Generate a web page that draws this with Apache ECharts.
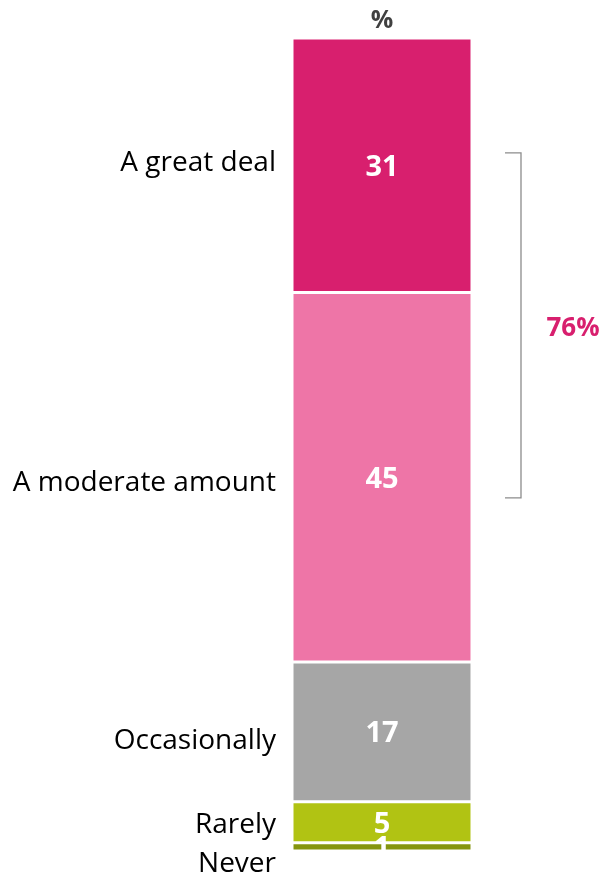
<!DOCTYPE html>
<html>
<head>
<meta charset="utf-8">
<script src="https://cdn.jsdelivr.net/npm/echarts@6/dist/echarts.min.js"></script>
<style>
  html, body { margin: 0; padding: 0; background: #fff; }
  #chart { width: 602px; height: 876px; }
</style>
</head>
<body>
<div id="chart"></div>
<script>
const categories = ['A great deal', 'A moderate amount', 'Occasionally', 'Rarely', 'Never'];
const values = [31, 45, 17, 5, 1];
const barName = ['%'];
const netValue = '76%';

const colors = ['#D81F6E', '#EE75A7', '#A6A6A6', '#B1C313', '#85950F'];
// small vertical nudges of the left-hand labels, as placed in the original
const nameOffsets = [-2, 6, 9, 3, 17];
const font = '"Open Sans", sans-serif';

const fillChart = () => {
  const dom = document.getElementById('chart');
  const myChart = echarts.init(dom);
  const total = values.reduce((a, b) => a + b, 0);

  const valueSeries = values.map((v, i) => ({
    name: categories[i],
    type: 'bar',
    stack: 'values',
    barWidth: '100%',
    data: [v],
    itemStyle: { color: colors[i], borderColor: '#fff', borderWidth: 1.5 },
    label: {
      show: true,
      position: 'inside',
      color: '#fff',
      fontFamily: font,
      fontWeight: 'bold',
      fontSize: 29,
      offset: [0, 2]
    },
    silent: true
  }));

  const nameSeries = values.map((v, i) => ({
    name: categories[i] + ' label',
    type: 'bar',
    stack: 'names',
    barWidth: '100%',
    barGap: '-100%',
    data: [v],
    itemStyle: { color: 'transparent' },
    label: {
      show: true,
      position: 'left',
      distance: 16,
      formatter: categories[i],
      color: '#000',
      fontFamily: font,
      fontSize: 28,
      offset: [0, nameOffsets[i]]
    },
    z: 1,
    silent: true
  }));

  const option = {
    animation: false,
    grid: { left: 292, right: 130, top: 38, bottom: 25 },
    xAxis: {
      type: 'category',
      position: 'top',
      data: barName,
      axisLine: { show: false },
      axisTick: { show: false },
      axisLabel: {
        color: '#404040',
        fontFamily: font,
        fontWeight: 'bold',
        fontSize: 25,
        margin: 5
      }
    },
    yAxis: {
      type: 'value',
      min: 0,
      max: total,
      inverse: true,
      show: false
    },
    series: valueSeries.concat(nameSeries)
  };

  myChart.setOption(option);

  // bracket for the net figure
  const yTop = myChart.convertToPixel({ yAxisIndex: 0 }, 14);
  const yBottom = myChart.convertToPixel({ yAxisIndex: 0 }, 56);
  const x0 = 505, x1 = 521;
  myChart.setOption({
    graphic: [
      {
        type: 'polyline',
        shape: { points: [[x0, yTop], [x1, yTop], [x1, yBottom], [x0, yBottom]] },
        style: { stroke: '#8C8C8C', lineWidth: 1.3, fill: null }
      },
      {
        type: 'text',
        x: 573,
        y: (yTop + yBottom) / 2 + 3,
        style: {
          text: netValue,
          fill: '#D81F6E',
          font: 'bold 26px ' + font,
          align: 'center',
          verticalAlign: 'middle'
        }
      }
    ]
  });
};

window.onload = function () {
  fillChart();
};
</script>
</body>
</html>
